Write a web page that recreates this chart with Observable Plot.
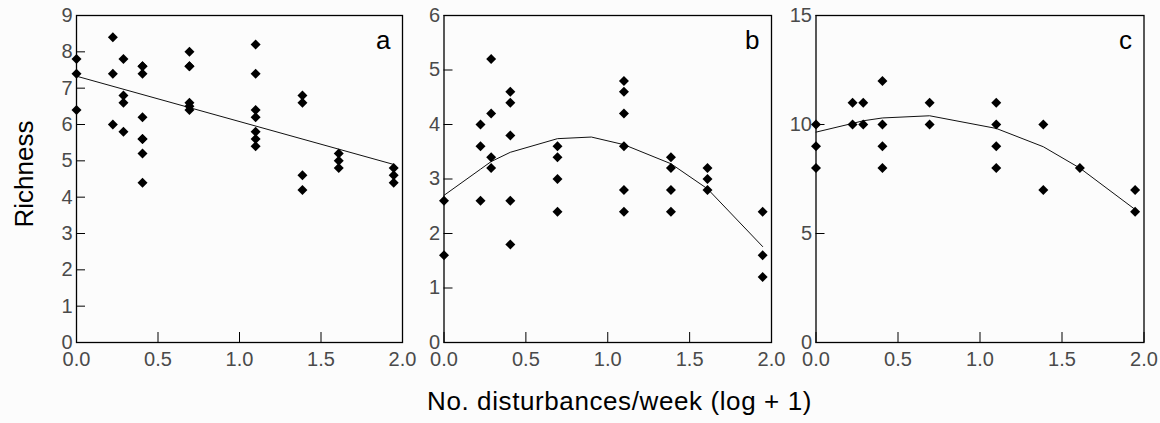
<!DOCTYPE html>
<html>
<head>
<meta charset="utf-8">
<script src="https://cdn.jsdelivr.net/npm/d3@7"></script>
<script src="https://cdn.jsdelivr.net/npm/@observablehq/plot@0.6"></script>
<style>
  html, body { margin: 0; padding: 0; background: #fcfcfc; }
  #chart { position: relative; width: 1160px; height: 423px; overflow: hidden;
           font-family: "Liberation Sans", Arial, sans-serif; }
  #chart svg { position: absolute; top: 0; overflow: visible; background: transparent; }
  .ytitle { position: absolute; left: -76.5px; top: 159px; width: 200px; height: 30px;
            line-height: 30px; font-size: 26px; text-align: center; color: #000;
            transform: rotate(-90deg); transform-origin: 100px 15px; white-space: nowrap; }
  .xtitle { position: absolute; left: 319.5px; top: 386px; width: 600px; height: 30px;
            line-height: 30px; font-size: 26px; letter-spacing: 0.6px; text-align: center;
            color: #000; white-space: nowrap; }
</style>
</head>
<body>
<div id="chart">
  <div class="ytitle">Richness</div>
  <div class="xtitle">No. disturbances/week (log + 1)</div>
</div>
<script>
// Disturbance levels, ln(n + 1)
const levels = [0, 0.223, 0.288, 0.405, 0.693, 1.099, 1.386, 1.609, 1.946];

// Richness observations at each disturbance level
const richnessA = [
  [7.8, 7.4, 6.4],
  [8.4, 7.4, 6.0],
  [7.8, 6.8, 6.6, 5.8],
  [7.6, 7.6, 7.4, 6.2, 5.6, 5.6, 5.2, 4.4],
  [8.0, 7.6, 7.6, 6.6, 6.5, 6.4],
  [8.2, 7.4, 6.4, 6.2, 5.8, 5.6, 5.4],
  [6.8, 6.6, 4.6, 4.2],
  [5.2, 5.0, 4.8],
  [4.8, 4.6, 4.4]
];
const richnessB = [
  [2.6, 1.6],
  [4.0, 3.6, 2.6],
  [5.2, 4.2, 3.4, 3.2],
  [4.6, 4.4, 3.8, 2.6, 1.8],
  [3.6, 3.4, 3.0, 2.4],
  [4.8, 4.6, 4.2, 3.6, 2.8, 2.4],
  [3.4, 3.2, 2.8, 2.4],
  [3.2, 3.0, 2.8],
  [2.4, 1.6, 1.2]
];
const richnessC = [
  [10, 9, 8],
  [11, 10],
  [11, 10],
  [12, 10, 9, 8],
  [11, 10],
  [11, 10, 9, 8],
  [10, 7],
  [8],
  [7, 6]
];

// Fitted trends
const fitAX = [0, 1.946];
const fitAY = [7.33, 4.90];
const fitBX = [0, 0.223, 0.288, 0.405, 0.693, 0.9, 1.099, 1.386, 1.609, 1.946];
const fitBY = [2.70, 3.18, 3.32, 3.49, 3.74, 3.77, 3.63, 3.28, 2.82, 1.76];
const fitCX = [0, 0.223, 0.288, 0.405, 0.693, 1.099, 1.386, 1.609, 1.946];
const fitCY = [9.65, 10.05, 10.17, 10.30, 10.40, 9.82, 8.98, 8.00, 6.10];

const xTicks = [0, 0.5, 1.0, 1.5, 2.0];
const yTicksA = [0, 1, 2, 3, 4, 5, 6, 7, 8, 9];
const yTicksB = [0, 1, 2, 3, 4, 5, 6];
const yTicksC = [0, 5, 10, 15];

const panels = [
  {letter: "a", values: richnessA, fx: fitAX, fy: fitAY, yTicks: yTicksA, ymax: 9,
   left: 0, width: 410, marginLeft: 76, marginRight: 8},
  {letter: "b", values: richnessB, fx: fitBX, fy: fitBY, yTicks: yTicksB, ymax: 6,
   left: 400, width: 380, marginLeft: 43.5, marginRight: 9},
  {letter: "c", values: richnessC, fx: fitCX, fy: fitCY, yTicks: yTicksC, ymax: 15,
   left: 772, width: 388, marginLeft: 43.5, marginRight: 16.5}
];

const chart = document.getElementById("chart");

for (const p of panels) {
  const pts = p.values.flatMap((ys, i) => ys.map(y => ({x: levels[i], y})));
  const fit = p.fx.map((x, i) => ({x, y: p.fy[i]}));
  const svg = Plot.plot({
    width: p.width,
    height: 375,
    marginLeft: p.marginLeft,
    marginRight: p.marginRight,
    marginTop: 15,
    marginBottom: 33,
    x: {domain: [0, 2]},
    y: {domain: [0, p.ymax]},
    style: {background: "transparent", overflow: "visible",
            fontFamily: "'Liberation Sans', Arial, sans-serif", fontSize: "20px"},
    marks: [
      Plot.axisY({ticks: p.yTicks, tickSize: -9, tickPadding: 13, label: null,
                  tickFormat: d3.format("d"), stroke: "#000", fill: "#4a4a4a"}),
      Plot.axisX({ticks: xTicks, tickSize: -10, tickPadding: 19, label: null,
                  tickFormat: d3.format(".1f"), stroke: "#000", fill: "#4a4a4a"}),
      Plot.frame({stroke: "#000", strokeWidth: 1.3}),
      Plot.line(fit, {x: "x", y: "y", stroke: "#111", strokeWidth: 1}),
      Plot.dot(pts, {x: "x", y: "y", symbol: "diamond2", r: 4.5, fill: "#000"}),
      Plot.text([p.letter], {frameAnchor: "top-right", dx: -12, dy: 15,
                             fontSize: 26, fill: "#000"})
    ]
  });
  svg.style.left = p.left + "px";
  chart.appendChild(svg);
}
</script>
</body>
</html>
